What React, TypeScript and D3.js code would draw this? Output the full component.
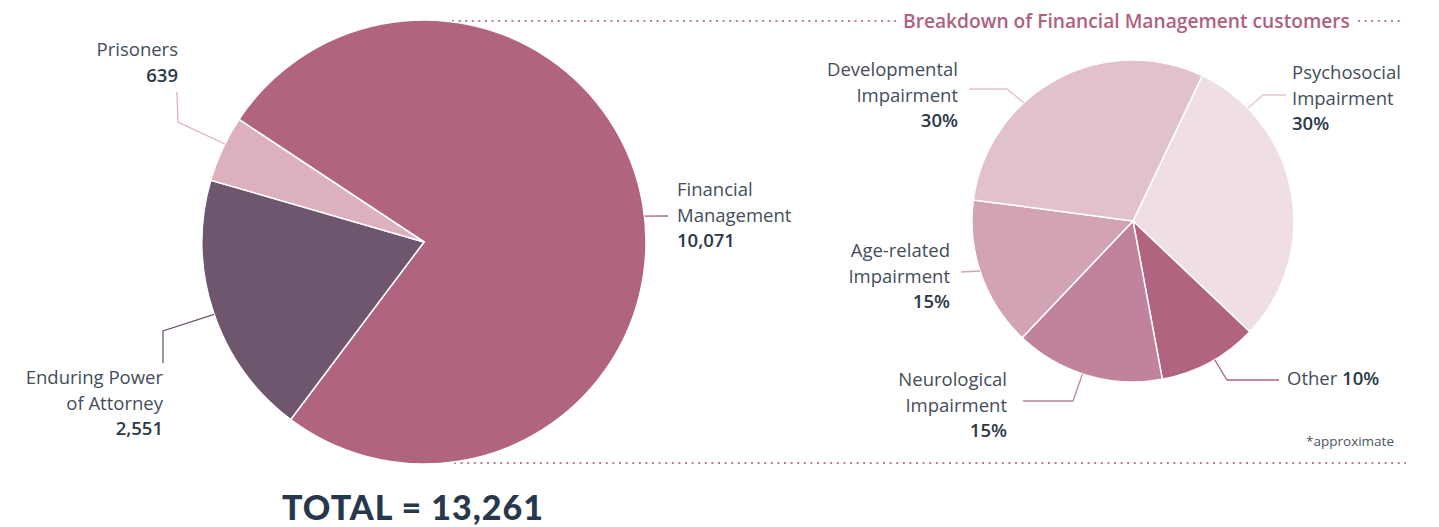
import React from 'react';
import * as d3 from 'd3';

const width = 1439;
const height = 527;

// customers by order type
const mainCategories = ['Financial Management', 'Enduring Power of Attorney', 'Prisoners'];
const mainValues = [10071, 2551, 639];
const mainColors = ['#b0647f', '#6e566e', '#ddb0bd'];

// breakdown of financial management customers (%)
const subCategories = ['Psychosocial Impairment', 'Other', 'Neurological Impairment', 'Age-related Impairment', 'Developmental Impairment'];
const subValues = [30, 10, 15, 15, 30];
const subColors = ['#efdfe5', '#b0647f', '#c0839b', '#d1a3b4', '#e0c1cd'];

const title = 'Breakdown of Financial Management customers';
const totalLabel = 'TOTAL = 13,261';
const footnote = '*approximate';

const rad = (deg: number) => (deg * Math.PI) / 180;

const mainPie = { cx: 424, cy: 242, r: 222, start: -56.5 };
const subPie = { cx: 1133, cy: 221, r: 161, start: 25.5 };

// label layout: line-break text, anchor, leader path (first point on the rim)
const mainLayout = [
  { lines: ['Financial', 'Management'], x: 677, y: 196, anchor: 'start', angle: 83.3, path: [[668, 216]] },
  { lines: ['Enduring Power', 'of Attorney'], x: 163, y: 384, anchor: 'end', angle: 251, path: [[163, 331], [163, 363]] },
  { lines: ['Prisoners'], x: 178, y: 56, anchor: 'end', angle: 296.2, path: [[178, 122], [177, 92]] },
];

const subLayout = [
  { lines: ['Psychosocial', 'Impairment'], x: 1292, y: 79, anchor: 'start', angle: 45.5, path: [[1263, 95], [1286, 95]] },
  { lines: ['Other'], x: 1287, y: 385, anchor: 'start', angle: 149.5, path: [[1227, 380], [1279, 380]], inline: true },
  { lines: ['Neurological', 'Impairment'], x: 1007, y: 386, anchor: 'end', angle: 198.3, path: [[1073, 401], [1023, 401]] },
  { lines: ['Age-related', 'Impairment'], x: 950, y: 257, anchor: 'end', angle: 251.9, path: [[961, 272]] },
  { lines: ['Developmental', 'Impairment'], x: 958, y: 76, anchor: 'end', angle: 317.3, path: [[1007, 89], [969, 89]] },
];

const labelColor = '#434d5c';
const numberColor = '#2b3849';
const font = '"Open Sans", "Noto Sans", sans-serif';
const lineH = 25.7;

function rim(p: { cx: number; cy: number; r: number }, deg: number): [number, number] {
  return [p.cx + p.r * Math.sin(rad(deg)), p.cy - p.r * Math.cos(rad(deg))];
}

function PieGroup({ p, values, colors, layout, fmt, names }: any) {
  const arcs = d3
    .pie<number>()
    .sort(null)
    .startAngle(rad(p.start))
    .endAngle(rad(p.start) + 2 * Math.PI)
    .value(d => d)(values);
  const arc = d3.arc<d3.PieArcDatum<number>>().innerRadius(0).outerRadius(p.r);
  const line = d3.line();
  return (
    <g>
      <g transform={`translate(${p.cx},${p.cy})`}>
        {arcs.map((a, i) => (
          <path key={names[i]} d={arc(a) || ''} fill={colors[i]} stroke="#fff" strokeWidth={1.5} strokeLinejoin="round" />
        ))}
      </g>
      {layout.map((l: any, i: number) => (
        <g key={names[i]}>
          <path
            d={line([rim(p, l.angle), ...l.path]) || ''}
            fill="none"
            stroke={colors[i] === '#efdfe5' ? '#e4c6d1' : colors[i]}
            strokeWidth={1.3}
          />
          <text x={l.x} y={l.y} textAnchor={l.anchor} fontFamily={font} fontSize={18.5} fill={labelColor}>
            {l.lines.map((s: string, j: number) => (
              <tspan key={j} x={l.x} y={l.y + j * lineH}>
                {s}
                {l.inline ? (
                  <tspan fontWeight={600} fill={numberColor}>{' ' + fmt(values[i])}</tspan>
                ) : null}
              </tspan>
            ))}
            {l.inline ? null : (
              <tspan x={l.x} y={l.y + l.lines.length * lineH} fontWeight={600} fill={numberColor}>
                {fmt(values[i])}
              </tspan>
            )}
          </text>
        </g>
      ))}
    </g>
  );
}

export default function App() {
  const dot = { stroke: '#c27b96', strokeWidth: 2, strokeDasharray: '2 4.6', strokeLinecap: 'butt' as const };
  return (
    <svg width={width} height={height} style={{ display: 'block', position: 'absolute', left: 0, top: 0 }}>
      <rect width={width} height={height} fill="#fff" />
      <line x1={452} x2={896} y1={21} y2={21} {...dot} />
      <line x1={1358} x2={1404} y1={21} y2={21} {...dot} />
      <line x1={454} x2={1406} y1={463} y2={463} {...dot} />
      <text x={903} y={27.5} fontFamily={font} fontSize={19.2} fontWeight={600} fill="#b0607f">
        {title}
      </text>
      <PieGroup p={mainPie} values={mainValues} colors={mainColors} layout={mainLayout} names={mainCategories} fmt={d3.format(',')} />
      <PieGroup p={subPie} values={subValues} colors={subColors} layout={subLayout} names={subCategories} fmt={(v: number) => `${v}%`} />
      <text x={1394} y={446} textAnchor="end" fontFamily={font} fontSize={13.5} fill="#4a5463">
        {footnote}
      </text>
      <text x={282} y={520} fontFamily='Lato, "Open Sans", sans-serif' fontSize={34} fontWeight={900} letterSpacing={1} fill="#27384d">
        {totalLabel}
      </text>
    </svg>
  );
}
